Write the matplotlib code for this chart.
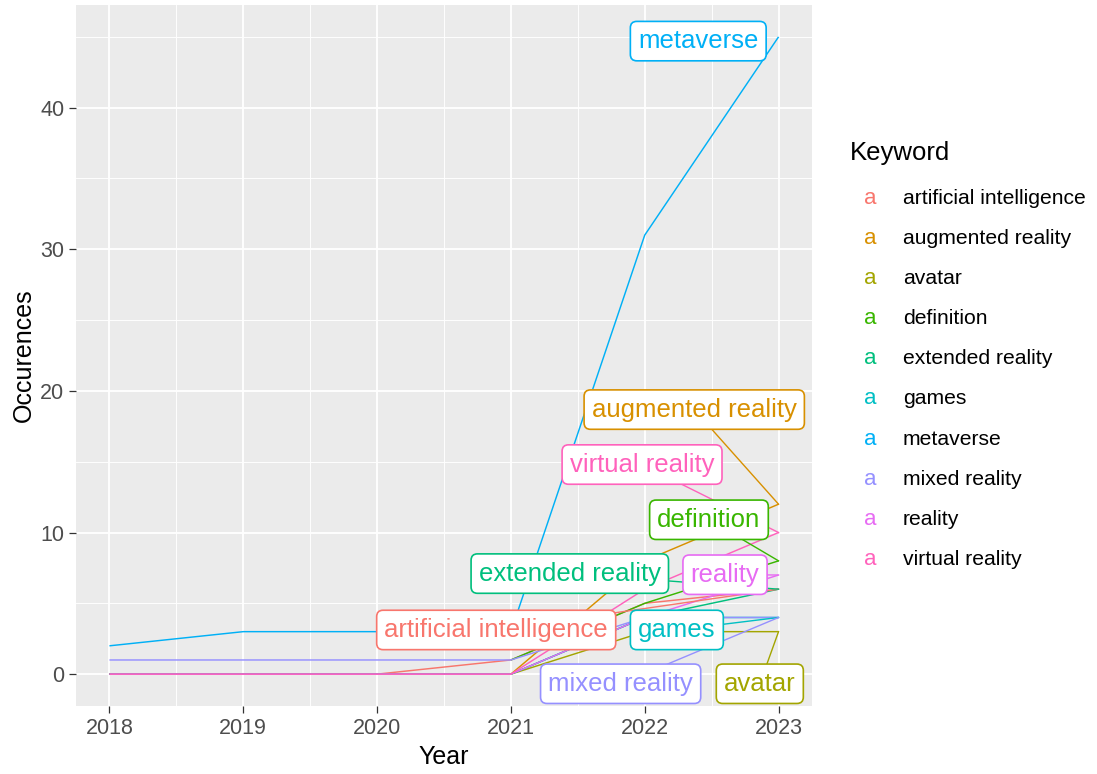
import matplotlib
matplotlib.use("Agg")
import matplotlib.pyplot as plt
import numpy as np

plt.rcParams['font.family'] = ['Liberation Sans', 'DejaVu Sans']

# ---------------- data ----------------
years = [2018, 2019, 2020, 2021, 2022, 2023]
keywords = ["artificial intelligence", "augmented reality", "avatar", "definition",
            "extended reality", "games", "metaverse", "mixed reality", "reality",
            "virtual reality"]
artificial_intelligence = [0, 0, 0, 1, 5, 6]
augmented_reality = [0, 0, 0, 0, 8, 12]
avatar = [0, 0, 0, 0, 3, 3]
definition = [np.nan, np.nan, np.nan, 1, 5, 8]
extended_reality = [0, 0, 0, 0, 4, 6]
games = [0, 0, 0, 0, 4, 4]
metaverse = [2, 3, 3, 3, 31, 45]
mixed_reality = [1, 1, 1, 1, 4, 4]
reality = [0, 0, 0, 0, 4, 7]
virtual_reality = [0, 0, 0, 0, 6, 10]
series = [artificial_intelligence, augmented_reality, avatar, definition,
          extended_reality, games, metaverse, mixed_reality, reality,
          virtual_reality]
colors = ["#F8766D", "#D89000", "#A3A500", "#39B600", "#00BF7D",
          "#00BFC4", "#00B0F6", "#9590FF", "#E76BF3", "#FF62BC"]
# repelled label positions (data coords)
label_x = [2020.89, 2022.37, 2022.86, 2022.48, 2021.44, 2022.24, 2022.40,
           2021.82, 2022.60, 2021.98]
label_y = [3.12, 18.68, -0.68, 10.9, 7.1, 3.12, 44.7, -0.68, 7.02, 14.8]
draw_segment = [True, True, True, True, True, True, False, True, True, True]

W, H = 1097, 774
fig = plt.figure(figsize=(W / 100, H / 100), dpi=100)
L, R, T, B = 76, 812, 5, 706
ax = fig.add_axes([L / W, 1 - B / H, (R - L) / W, (B - T) / H])
ax.set_facecolor("#EBEBEB")
for s in ax.spines.values():
    s.set_visible(False)

ax.set_xlim(2018 - 0.25, 2023 + 0.25)
ax.set_ylim(-2.25, 47.25)
ax.set_xticks(years)
ax.set_xticks(np.arange(2018.5, 2023, 1.0), minor=True)
ax.set_yticks([0, 10, 20, 30, 40])
ax.set_yticks([5, 15, 25, 35, 45], minor=True)
ax.grid(which="major", color="white", linewidth=1.3)
ax.grid(which="minor", color="white", linewidth=0.65)
ax.set_axisbelow(True)
ax.tick_params(which="major", length=4.8, width=0.9, color="#333333",
               labelcolor="#4D4D4D", labelsize=15.5, pad=3.5)
ax.tick_params(which="minor", length=0)

for vals, c in zip(series, colors):
    ax.plot(years, vals, color=c, linewidth=1.05, zorder=2, solid_capstyle="butt")

# label segments
for vals, c, lx, ly, seg in zip(series, colors, label_x, label_y, draw_segment):
    if seg:
        ax.plot([lx, years[-1]], [ly, vals[-1]], color=c, linewidth=1.0, zorder=3)

for name, c, lx, ly in zip(keywords, colors, label_x, label_y):
    ax.text(lx, ly, name, color=c, fontsize=18.5, ha="center", va="center",
            zorder=4,
            bbox=dict(boxstyle="round,pad=0.3,rounding_size=0.25", facecolor="white",
                      edgecolor=c, linewidth=1.2))

ax.set_xlabel("Year", fontsize=18, color="black", va="center")
ax.xaxis.set_label_coords((444 - L) / (R - L), -(757 - B) / (B - T))
ax.set_ylabel("Occurences", fontsize=18, color="black", va="center")
ax.yaxis.set_label_coords((24 - L) / (R - L), 0.5)

# legend
fig.text(850 / W, 1 - 153 / H, "Keyword", fontsize=18.5, color="black",
         ha="left", va="center")
for i, (name, c) in enumerate(zip(keywords, colors)):
    yy = 198 + 40.2 * i
    fig.text(870 / W, 1 - yy / H, "a", fontsize=16, color=c, ha="center", va="center")
    fig.text(903 / W, 1 - yy / H, name, fontsize=15.2, color="black", ha="left", va="center")

fig.savefig("out.png", dpi=100, facecolor="white")
